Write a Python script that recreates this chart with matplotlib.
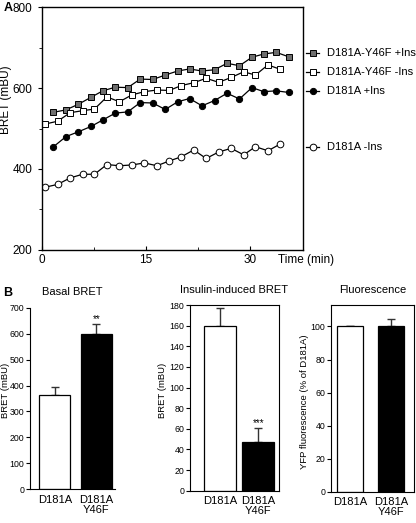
import matplotlib
matplotlib.use("Agg")
import matplotlib.pyplot as plt
import matplotlib.transforms as mtransforms

plt.rcParams["font.family"] = ["Liberation Sans", "DejaVu Sans"]

# Panel A: BRET time course
t_minus = [0.5, 2.3, 4.1, 5.9, 7.6, 9.4, 11.2, 13.0, 14.8, 16.6,
           18.4, 20.1, 21.9, 23.7, 25.5, 27.3, 29.1, 30.8, 32.6, 34.4]
t_plus = [1.7, 3.5, 5.3, 7.1, 8.8, 10.6, 12.4, 14.2, 16.0, 17.8,
          19.6, 21.3, 23.1, 24.9, 26.7, 28.5, 30.3, 32.0, 33.8, 35.6]
y46f_ins = [540, 546, 560, 577, 593, 602, 601, 622, 621, 632,
            642, 647, 642, 645, 661, 655, 676, 684, 688, 677]
y46f_noins = [511, 518, 539, 544, 548, 578, 566, 583, 591, 595,
              594, 606, 613, 624, 614, 626, 640, 632, 657, 646]
d181a_ins = [455, 480, 492, 505, 521, 538, 541, 564, 563, 547,
             566, 574, 556, 569, 587, 573, 601, 591, 593, 589]
d181a_noins = [355, 362, 378, 387, 387, 411, 408, 410, 415, 408,
               420, 430, 447, 426, 442, 451, 435, 455, 445, 462]
series_labels = ["D181A-Y46F +Ins", "D181A-Y46F -Ins", "D181A +Ins", "D181A -Ins"]

# Panel B: bar charts
bar_cats = ["D181A", "D181A\nY46F"]
basal = [363, 598]
basal_err = [32, 40]
insulin = [160, 47]
insulin_err = [17, 14]
fluo = [100, 100]
fluo_err = [0.6, 4.5]

fig = plt.figure(figsize=(4.16, 5.23), dpi=100)

# ---------------- Panel A ----------------
ax = fig.add_axes([0.1002, 0.522, 0.629, 0.4646])
styles = [
    dict(marker="s", mfc="#6e6e6e", mec="black", ms=4.2),
    dict(marker="s", mfc="white", mec="black", ms=4.2),
    dict(marker="o", mfc="black", mec="black", ms=4.5),
    dict(marker="o", mfc="white", mec="black", ms=4.8),
]
times = [t_plus, t_minus, t_plus, t_minus]
values = [y46f_ins, y46f_noins, d181a_ins, d181a_noins]
for tt, vv, st in zip(times, values, styles):
    ax.plot(tt, vv, color="black", lw=0.9, mew=0.7, **st)

ax.set_xlim(0, 37.7)
ax.set_ylim(200, 800)
ax.set_xticks([0, 15, 30])
ax.set_xticks([7.5, 22.5], minor=True)
ax.set_yticks([200, 400, 600, 800])
ax.set_yticks([300, 500, 700], minor=True)
ax.tick_params(axis="x", direction="in", labelsize=8.5, length=3, pad=3)
ax.tick_params(axis="x", which="minor", direction="in", length=2)
ax.tick_params(axis="y", direction="out", labelsize=8.5, length=3)
ax.tick_params(axis="y", which="minor", direction="out", length=2)
for s in ax.spines.values():
    s.set_linewidth(1.0)
ax.set_ylabel("BRET (mBU)", fontsize=8.5)
ax.yaxis.set_label_coords(-0.112, 0.617)

# legend drawn next to the line ends
trans = mtransforms.blended_transform_factory(ax.transAxes, ax.transData)
legend_y = [686, 640, 593, 454]
for ly, lab, st in zip(legend_y, series_labels, styles):
    ax.plot([1.012, 1.058], [ly, ly], color="black", lw=0.9,
            transform=trans, clip_on=False)
    ax.plot([1.035], [ly], color="black", mew=0.7, transform=trans,
            clip_on=False, **st)
    ax.text(1.09, ly, lab, transform=trans, fontsize=8, va="center", ha="left")

fig.text(0.668, 0.503, "Time (min)", fontsize=8.5, va="center", ha="left")
fig.text(0.008, 0.985, "A", fontsize=9, fontweight="bold", va="center")
fig.text(0.008, 0.44, "B", fontsize=9, fontweight="bold", va="center")

# ---------------- Panel B ----------------
def bar_panel(rect, vals, errs, ylim, yticks, title, ylabel, xlim, width,
              label_xy, stars=None, box=True):
    bx = fig.add_axes(rect)
    xs = [0, 1]
    bx.bar(xs, vals, width=width, color=["white", "black"],
           edgecolor="black", linewidth=0.9, zorder=2)
    bx.errorbar(xs, vals, yerr=[[0, 0], errs], fmt="none", ecolor="#333333",
                elinewidth=1.0, capsize=3, capthick=1.0, zorder=1)
    bx.set_xlim(*xlim)
    bx.set_ylim(*ylim)
    bx.set_yticks(yticks)
    bx.set_xticks(xs)
    bx.set_xticklabels(bar_cats, fontsize=8, linespacing=1.0)
    bx.tick_params(axis="x", length=0, pad=4)
    bx.tick_params(axis="y", direction="out", labelsize=6.3, length=3, pad=1.2)
    bx.set_title(title, fontsize=8, pad=9)
    bx.set_ylabel(ylabel, fontsize=6.8)
    bx.yaxis.set_label_coords(*label_xy)
    if not box:
        bx.spines["top"].set_visible(False)
        bx.spines["right"].set_visible(False)
    if stars:
        for i, s in enumerate(stars):
            if s:
                bx.text(xs[i], vals[i] + errs[i], s, ha="center", va="bottom",
                        fontsize=7)
    return bx

bar_panel([0.0721, 0.0644, 0.2043, 0.3473], basal, basal_err, (0, 700),
          range(0, 701, 100), "Basal BRET", "BRET (mBU)", (-0.6, 1.45), 0.75,
          (-0.24, 0.547), stars=[None, "**"], box=False)
bar_panel([0.4567, 0.0618, 0.214, 0.355], insulin, insulin_err, (0, 180),
          range(0, 181, 20), "Insulin-induced BRET", "BRET (mBU)",
          (-0.8, 1.55), 0.85, (-0.26, 0.54), stars=[None, "***"])
bar_panel([0.7957, 0.0598, 0.2002, 0.357], fluo, fluo_err, (0, 113),
          range(0, 101, 20), "Fluorescence", "YFP fluorescence (% of D181A)",
          (-0.47, 1.57), 0.65, (-0.26, 0.48))

fig.savefig("out.png", dpi=100)
